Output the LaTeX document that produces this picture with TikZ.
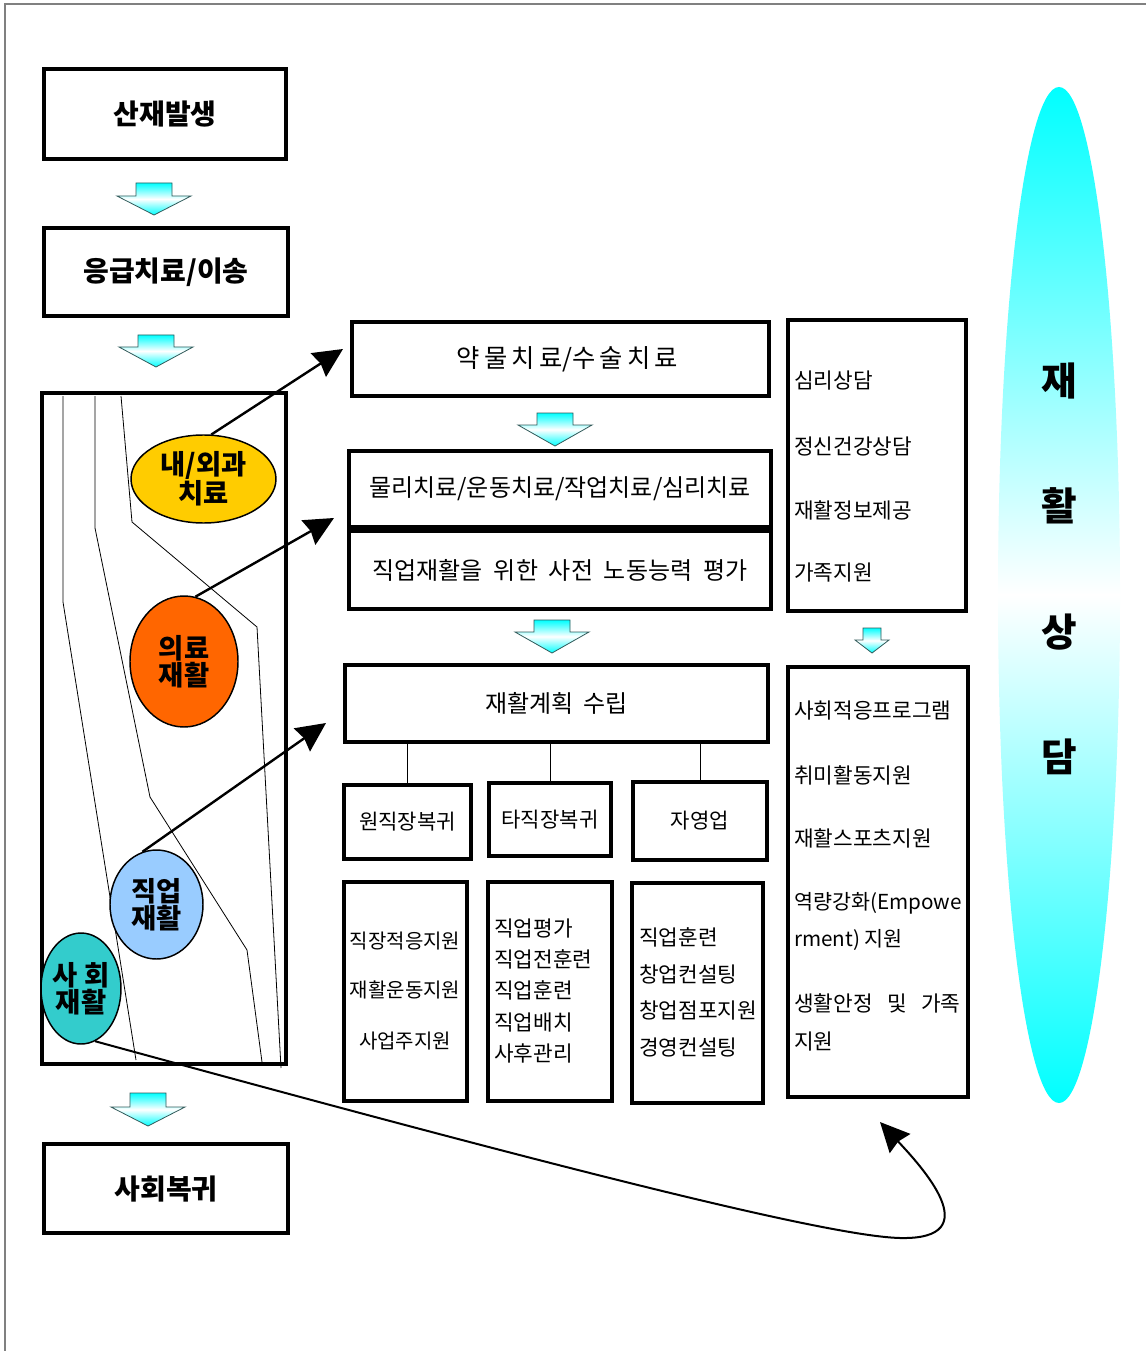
\documentclass[tikz,border=0pt]{standalone}
\usepackage{fontspec}
\setmainfont{Noto Sans CJK KR}
\usetikzlibrary{arrows.meta,shapes.geometric}
\definecolor{yel}{HTML}{FFCC00}
\definecolor{ora}{HTML}{FF6600}
\definecolor{lblue}{HTML}{99CCFF}
\definecolor{teal2}{HTML}{33CCCC}
\definecolor{aedge}{RGB}{50,90,90}
\begin{document}
\begin{tikzpicture}[x=0.75pt,y=-0.75pt,
  box/.style={draw, line width=3pt, rectangle, inner sep=0pt},
  bigt/.style={font=\fontsize{21}{22}\selectfont\bfseries},
  midt/.style={font=\fontsize{18}{20}\selectfont},
  lst/.style={font=\fontsize{16}{17}\selectfont, inner sep=0pt},
  lsts/.style={font=\fontsize{15.8}{17}\selectfont, inner sep=0pt},
  ell/.style={draw, ellipse, line width=1.1pt, inner sep=0pt, align=center, font=\fontsize{20.5}{20.5}\selectfont\bfseries},
  inln/.style={line width=0.6pt},
  bolda/.style={line width=1.8pt, -{Stealth[length=22pt,width=21pt,inset=2pt]}},
  arrowfill/.style={draw=aedge, line width=0.6pt, top color=cyan, bottom color=cyan, middle color=white},
  pics/barrow/.style n args={4}{code={\path[arrowfill] (-#1,0) -- (#1,0) -- (#1,#3) -- (#2,#3) -- (0,#4) -- (-#2,#3) -- (-#1,#3) -- cycle;}},
  vt/.style={font=\fontsize{29}{30}\selectfont\bfseries}
]
\useasboundingbox (0,0) rectangle (1146,1351);
\fill[white] (0,0) rectangle (1146,1351);
\draw[gray, line width=1.2pt] (5,1351) -- (5,4) -- (1146,4);

% big cyan ellipse
\node[ellipse, minimum width=91.5pt, minimum height=762pt, inner sep=0pt,
      top color=cyan, bottom color=cyan, middle color=white] (bell) at (1059,595) {};
\node[vt] (v1) at (1059,381) {재};
\node[vt] (v2) at (1059,506) {활};
\node[vt] (v3) at (1059,632) {상};
\node[vt] (v4) at (1059,757) {담};

% left column
\node[box, bigt, minimum width=181.5pt, minimum height=67.5pt] (b1) at (165,114) {산재발생};
\pic at (154,183) {barrow={18}{37}{13}{32}};
\node[box, bigt, minimum width=183pt, minimum height=66pt] (b2) at (166,272) {응급치료/이송};
\pic at (156,335) {barrow={18}{37}{12}{32}};
\node[box, minimum width=183pt, minimum height=503.25pt] (big) at (164,728.5) {};
\pic at (148,1093) {barrow={18}{37}{14}{33}};
\node[box, bigt, minimum width=183pt, minimum height=66.75pt] (b4) at (166,1188.5) {사회복귀};

% thin lines inside big box
\draw[inln] (63,396) -- (63,602) -- (136,1060);
\draw[inln] (95,396) -- (95,528) -- (150,797) -- (247,950) -- (262,1062);
\draw[inln] (121,396) -- (132,522) -- (257,627) -- (281,1068);

% ellipses
\node[ell, fill=yel, minimum width=108.75pt, minimum height=66pt] (na) at (203.5,479) {내/외과\\치료};
\node[ell, fill=ora, minimum width=81pt, minimum height=98.25pt] (ui) at (184,661.5) {의료\\재활};
\node[ell, fill=lblue, minimum width=69.75pt, minimum height=81.75pt] (jo) at (156.5,904.5) {직업\\재활};
\node[ell, fill=teal2, minimum width=54pt, minimum height=83.25pt] (sr) at (81,988.5) {사 회\\재활};

% middle column
\node[box, font=\fontsize{19}{20}\selectfont, minimum width=312.75pt, minimum height=55.5pt] (yak) at (560.5,359) {\makebox[156pt][s]{약\,물\,치\,료/수\,술\,치\,료}};
\pic at (555,413) {barrow={18}{37}{12}{33}};
\node[box, midt, minimum width=316.5pt, minimum height=57pt] (mul) at (560,489) {물리치료/운동치료/작업치료/심리치료};
\node[box, midt, minimum width=316.5pt, minimum height=58.5pt] (jik) at (560,570) {\makebox[281pt][s]{직업재활을 위한 사전 노동능력 평가}};
\pic at (552,620) {barrow={18}{37}{12}{33}};
\node[box, font=\fontsize{18}{20}\selectfont, minimum width=317.25pt, minimum height=57.75pt] (plan) at (556.5,703.5) {\makebox[106.5pt][s]{재활계획 수립}};

\node[box, lsts, minimum width=95.25pt, minimum height=55.5pt] (wj) at (407.5,822) {원직장복귀};
\node[box, lsts, minimum width=91.5pt, minimum height=54.75pt] (tj) at (550,819.5) {타직장복귀};
\node[box, lsts, minimum width=100.5pt, minimum height=58.5pt] (jy) at (700,821) {자영업};
\draw[inln] (wj.north |- plan.south) -- (wj.north);
\draw[inln] (tj.north |- plan.south) -- (tj.north);
\draw[inln] (jy.north |- plan.south) -- (jy.north);

\node[box, minimum width=92.25pt, minimum height=164.25pt] (l1) at (405.5,991.5) {};
\node[box, minimum width=93pt, minimum height=164.25pt] (l2) at (550,991.5) {};
\node[box, minimum width=98.25pt, minimum height=165pt] (l3) at (697.5,993) {};

\node[lst, font=\fontsize{15}{16}\selectfont] (c11) at (405,941) {직장적응지원};
\node[lst, font=\fontsize{15}{16}\selectfont] (c12) at (405,990) {재활운동지원};
\node[lst, font=\fontsize{15}{16}\selectfont] (c13) at (405,1041) {사업주지원};

\node[lst, anchor=west] (c21) at (494,929) {직업평가};
\node[lst, anchor=west] (c22) at (494,959) {직업전훈련};
\node[lst, anchor=west] (c23) at (494,990) {직업훈련};
\node[lst, anchor=west] (c24) at (494,1022) {직업배치};
\node[lst, anchor=west] (c25) at (494,1053) {사후관리};

\node[lst, anchor=west] (c31) at (639,937) {직업훈련};
\node[lst, anchor=west] (c32) at (639,974) {창업컨설팅};
\node[lst, anchor=west] (c33) at (639,1010) {창업점포지원};
\node[lst, anchor=west] (c34) at (639,1047) {경영컨설팅};

% right column
\node[box, minimum width=133.5pt, minimum height=218.25pt] (r1) at (877,465.5) {};
\node[lst, anchor=west] (r11) at (794,381) {심리상담};
\node[lst, anchor=west] (r12) at (794,446) {정신건강상담};
\node[lst, anchor=west] (r13) at (794,510) {재활정보제공};
\node[lst, anchor=west] (r14) at (794,573) {가족지원};
\pic at (872,628) {barrow={9}{17}{12}{25}};
\node[box, minimum width=135pt, minimum height=322.5pt] (r2) at (878,882) {};
\node[lst, anchor=west] (r21) at (794,711) {사회적응프로그램};
\node[lst, anchor=west] (r22) at (794,775) {취미활동지원};
\node[lst, anchor=west] (r23) at (794,838) {재활스포츠지원};
\node[lst, anchor=west, font=\fontsize{15.5}{17}\selectfont] (r24) at (794,903) {역량강화(Empowe};
\node[lst, anchor=west, font=\fontsize{15.5}{17}\selectfont] (r25) at (794,940) {rment) 지원};
\node[lst, anchor=west] (r26) at (794,1003) {\makebox[124.5pt][s]{생활안정 및 가족}};
\node[lst, anchor=west] (r27) at (794,1041) {지원};

% arrows
\coordinate (t1) at (343,349);
\coordinate (t2) at (334,518);
\coordinate (t3) at (326,723);
\coordinate (ctip) at (880,1122);
\draw[bolda] (na.80) -- (t1);
\draw[bolda] (ui.80) -- (t2);
\draw[bolda] (jo.105) -- (t3);
\draw[line width=1.5pt, -{Stealth[length=22pt,width=21pt,inset=2pt]}] (sr.-75) .. controls (500,1152) and (820,1236) .. (900,1238) .. controls (990,1240) and (920,1165) .. (ctip);
\end{tikzpicture}
\end{document}
